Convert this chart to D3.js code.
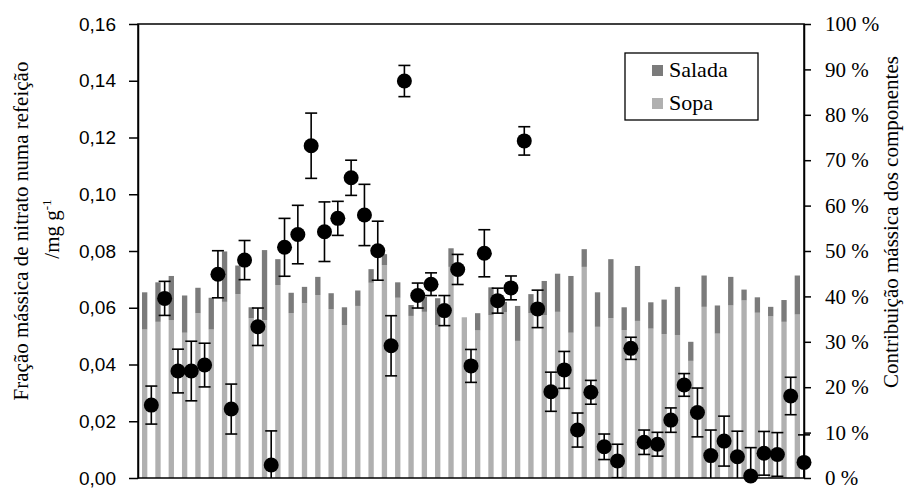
<!DOCTYPE html>
<html>
<head>
<meta charset="utf-8">
<script src="https://cdn.jsdelivr.net/npm/d3@7"></script>
<style>
  body { margin: 0; background: #fff; }
  .serif { font-family: "Liberation Serif", "Times New Roman", Times, "DejaVu Serif", serif; }
  .sans { font-family: "Liberation Sans", Arial, Helvetica, sans-serif; }
</style>
</head>
<body>
<svg id="chart" width="909" height="489"></svg>
<script>
// Meals (categories, not labelled on the axis)
const meals = d3.range(1, 51).map(i => "Refeição " + i);

// Nitrate mass fraction per meal (mg g-1) and its uncertainty
const nitrate = [
  0.0257, 0.0633, 0.0377, 0.0377, 0.0398, 0.0718, 0.0243, 0.0768, 0.0533, 0.0046,
  0.0813, 0.0858, 0.1171, 0.0868, 0.0915, 0.1058, 0.0927, 0.0801, 0.0466, 0.1399,
  0.0643, 0.0683, 0.0590, 0.0735, 0.0395, 0.0792, 0.0625, 0.0670, 0.1188, 0.0596,
  0.0304, 0.0381, 0.0169, 0.0302, 0.0110, 0.0060, 0.0457, 0.0126, 0.0119, 0.0204,
  0.0328, 0.0231, 0.0079, 0.0130, 0.0075, 0.0007, 0.0087, 0.0083, 0.0289, 0.0055
];
const nitrateErr = [
  0.0067, 0.0060, 0.0077, 0.0105, 0.0077, 0.0083, 0.0088, 0.0069, 0.0066, 0.0120,
  0.0102, 0.0103, 0.0115, 0.0105, 0.0060, 0.0062, 0.0108, 0.0104, 0.0106, 0.0055,
  0.0044, 0.0040, 0.0053, 0.0053, 0.0058, 0.0083, 0.0044, 0.0042, 0.0050, 0.0066,
  0.0069, 0.0065, 0.0060, 0.0042, 0.0045, 0.0059, 0.0039, 0.0043, 0.0042, 0.0043,
  0.0040, 0.0086, 0.0090, 0.0088, 0.0090, 0.0100, 0.0077, 0.0077, 0.0066, 0.0097
];

// Mass contribution of each component to the meal (%)
const sopaShare = [
  32.7, 34.4, 34.8, 32.0, 36.3, 32.7, 38.8, 40.5, 35.2, 34.8,
  42.5, 36.3, 38.5, 40.3, 37.2, 33.7, 37.9, 43.0, 46.9, 39.7,
  35.7, 36.6, 33.7, 46.5, 35.4, 32.5, 35.9, 36.5, 30.2, 36.3,
  35.9, 36.6, 32.0, 46.5, 33.3, 35.2, 32.6, 34.6, 32.9, 31.7,
  31.5, 25.8, 37.7, 31.8, 38.0, 39.1, 36.4, 35.6, 34.4, 36.0
];
const saladaShare = [
   8.2,  8.7,  9.7,  8.2,  5.6,  7.0, 11.1,  6.3,  2.4, 15.4,
   5.7,  4.5,  3.6,  4.0,  3.5,  3.9,  3.4,  3.0,  2.4,  3.4,
   2.4,  3.3,  5.9,  4.1,  0.0,  3.8,  6.1,  2.3,  7.7,  4.2,
   7.5,  8.4, 12.5,  3.9,  7.6, 13.0,  5.0, 12.1,  5.8,  7.6,
  10.6,  4.2,  6.9,  6.2,  6.3,  2.4,  3.4,  2.1,  4.8,  8.6
];

// Axis ticks
const leftTicks = [0, 0.02, 0.04, 0.06, 0.08, 0.10, 0.12, 0.14, 0.16];
const rightTicks = [0, 10, 20, 30, 40, 50, 60, 70, 80, 90, 100];

const seriesKeys = ["sopa", "salada"];
const seriesLabels = { salada: "Salada", sopa: "Sopa" };
const seriesColors = { sopa: "#b0b0b0", salada: "#7b7b7b" };

const W = 909, H = 489;
const m = { left: 138, right: 804, top: 24, bottom: 478 };

const svg = d3.select("#chart");
svg.append("rect").attr("width", W).attr("height", H).attr("fill", "#fff");

const x = d3.scaleBand().domain(meals).range([m.left, m.right])
  .paddingInner(0.6).paddingOuter(0.3);
const yL = d3.scaleLinear().domain([0, 0.16]).range([m.bottom, m.top]);
const yR = d3.scaleLinear().domain([0, 100]).range([m.bottom, m.top]);

// Stacked component bars (right axis)
const rows = meals.map((k, i) => ({ k, sopa: sopaShare[i], salada: saladaShare[i] }));
const layers = d3.stack().keys(seriesKeys)(rows);

svg.append("g").selectAll("g").data(layers).join("g")
  .attr("fill", d => seriesColors[d.key])
  .selectAll("rect").data(d => d).join("rect")
  .attr("x", d => x(d.data.k))
  .attr("width", x.bandwidth())
  .attr("y", d => yR(d[1]))
  .attr("height", d => yR(d[0]) - yR(d[1]));

// Plot frame
svg.append("rect")
  .attr("x", m.left).attr("y", m.top)
  .attr("width", m.right - m.left).attr("height", m.bottom - m.top)
  .attr("fill", "none").attr("stroke", "#000").attr("stroke-width", 1.5);

// Left axis
const fmtL = d => d3.format(".2f")(d).replace(".", ",");
const gL = svg.append("g").attr("transform", `translate(${m.left},0)`)
  .call(d3.axisLeft(yL).tickValues(leftTicks).tickFormat(fmtL)
    .tickSizeInner(9).tickSizeOuter(0).tickPadding(13));
gL.attr("font-family", null).attr("font-size", null).attr("class", "sans");
gL.select(".domain").attr("stroke-width", 1.5);
gL.selectAll(".tick line").attr("stroke-width", 1.5);
gL.selectAll(".tick text").attr("font-size", 19).attr("fill", "#000");

// Right axis
const gR = svg.append("g").attr("transform", `translate(${m.right},0)`)
  .call(d3.axisRight(yR).tickValues(rightTicks).tickFormat(d => d + " %")
    .tickSizeInner(7).tickSizeOuter(0).tickPadding(14));
gR.attr("font-family", null).attr("font-size", null).attr("class", "serif");
gR.select(".domain").attr("stroke-width", 1.5);
gR.selectAll(".tick line").attr("stroke-width", 1.5);
gR.selectAll(".tick text").attr("font-size", 21).attr("fill", "#000");

// Nitrate points with error bars (left axis)
const px = k => x(k) + x.bandwidth() / 2 + x.step() / 2;
const pts = meals.map((k, i) => ({ k, v: nitrate[i], e: nitrateErr[i] }));

svg.append("clipPath").attr("id", "plotClip")
  .append("rect").attr("x", 0).attr("y", m.top)
  .attr("width", W).attr("height", m.bottom - m.top);

const eb = svg.append("g").attr("clip-path", "url(#plotClip)")
  .attr("stroke", "#000").attr("stroke-width", 1.6);
const capW = 6;
eb.selectAll("line.v").data(pts).join("line").attr("class", "v")
  .attr("x1", d => px(d.k)).attr("x2", d => px(d.k))
  .attr("y1", d => yL(d.v - d.e)).attr("y2", d => yL(d.v + d.e));
eb.selectAll("line.t").data(pts).join("line").attr("class", "t")
  .attr("x1", d => px(d.k) - capW).attr("x2", d => px(d.k) + capW)
  .attr("y1", d => yL(d.v + d.e)).attr("y2", d => yL(d.v + d.e));
eb.selectAll("line.b").data(pts).join("line").attr("class", "b")
  .attr("x1", d => px(d.k) - capW).attr("x2", d => px(d.k) + capW)
  .attr("y1", d => yL(d.v - d.e)).attr("y2", d => yL(d.v - d.e));

svg.append("g").selectAll("circle").data(pts).join("circle")
  .attr("cx", d => px(d.k)).attr("cy", d => yL(d.v))
  .attr("r", 7.5).attr("fill", "#000");

// Axis titles
const tL = svg.append("g").attr("class", "serif").attr("font-size", 21).attr("fill", "#000");
tL.append("text").attr("transform", "translate(28,231) rotate(-90)")
  .attr("text-anchor", "middle").text("Fração mássica de nitrato numa refeição");
const t2 = tL.append("text").attr("transform", "translate(59,229) rotate(-90)")
  .attr("text-anchor", "middle");
t2.append("tspan").text("/mg g");
t2.append("tspan").attr("font-size", 13).attr("dy", -8).text("-1");

svg.append("text").attr("class", "serif")
  .attr("transform", "translate(898,222) rotate(-90)")
  .attr("text-anchor", "middle").attr("font-size", 21)
  .attr("fill", "#000").text("Contribuição mássica dos componentes");

// Legend
const lg = svg.append("g");
lg.append("rect").attr("x", 625).attr("y", 53).attr("width", 133).attr("height", 67)
  .attr("fill", "#fff").attr("stroke", "#000").attr("stroke-width", 1.3);
["salada", "sopa"].forEach((key, i) => {
  const yy = 65 + i * 33;
  lg.append("rect").attr("x", 652).attr("y", yy).attr("width", 11).attr("height", 11)
    .attr("fill", seriesColors[key]);
  lg.append("text").attr("class", "serif").attr("x", 669).attr("y", yy + 12)
    .attr("font-size", 22).attr("fill", "#000")
    .text(seriesLabels[key]);
});
</script>
</body>
</html>
